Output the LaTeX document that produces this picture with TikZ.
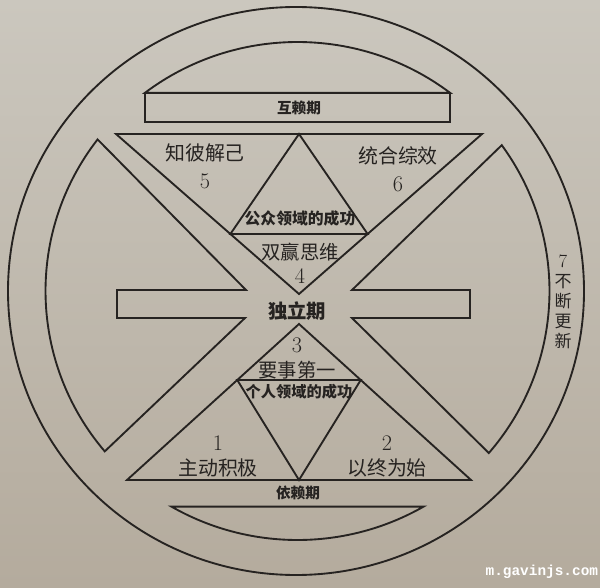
\documentclass[tikz,border=0pt]{standalone}
\usepackage{fontspec}
\newfontfamily\cjk{Noto Sans CJK SC}
\newfontfamily\wmfont{Liberation Mono}
\usetikzlibrary{calc}
\definecolor{papertop}{RGB}{203,199,190}
\definecolor{paperbot}{RGB}{180,171,157}
\definecolor{ink}{RGB}{38,35,33}
\begin{document}
\begin{tikzpicture}[x=0.03cm, y=0.03cm, line width=1.6pt, draw=ink, line join=miter,
  lbl/.style={text=ink, inner sep=0pt, font=\cjk\fontsize{17}{19}\selectfont},
  lblb/.style={text=ink, inner sep=0pt, font=\cjk\bfseries\fontsize{13}{15}\selectfont},
  num/.style={text=ink, inner sep=0pt, font=\fontsize{19}{21}\selectfont}]
\useasboundingbox (0,0) rectangle (600,587);
\shade[top color=papertop, bottom color=paperbot] (0,0) rectangle (600,587);
\coordinate (O) at (296,296);
\coordinate (C) at (297.5,296);
% outer ring
\draw (O) ellipse [x radius=288, y radius=284];
% top cap and interdependence bar
\path (C) ++(52.7:252 and 249) coordinate (capR);
\path (C) ++(127.3:252 and 249) coordinate (capL);
\draw (capR) arc[start angle=52.7, end angle=127.3, x radius=252, y radius=249] -- cycle;
\draw (capL) rectangle (capR |- 0,465);
\node[lblb, font=\cjk\bfseries\fontsize{12.5}{15}\selectfont] (hulai) at (299,479.5) {互赖期};
% bottom cap
\path (C) ++(240:252 and 249) coordinate (bcapL);
\path (C) ++(300:252 and 249) coordinate (bcapR);
\draw (bcapL) arc[start angle=240, end angle=300, x radius=252, y radius=249] -- cycle;
% upper big triangle
\coordinate (UL) at (116,453);
\coordinate (UR) at (482,453);
\coordinate (UA) at (299,293);
\coordinate (UM) at (299,453);
\draw (UL) -- (UR) -- (UA) -- cycle;
\draw ($(UL)!0.625!(UA)$) -- (UM) -- ($(UR)!0.625!(UA)$) -- cycle;
% lower big triangle
\coordinate (LL) at (127,107);
\coordinate (LR) at (471,107);
\coordinate (LA) at (299,263);
\coordinate (LM) at (299,107);
\draw (LL) -- (LR) -- (LA) -- cycle;
\draw ($(LL)!0.641!(LA)$) -- (LM) -- ($(LR)!0.641!(LA)$) -- cycle;
% left region
\path (C) ++(142.5:252 and 249) coordinate (LT);
\path (C) ++(220.1:252 and 249) coordinate (LB);
\draw (LT) arc[start angle=142.5, end angle=220.1, x radius=252, y radius=249] -- (245,269) -- (117,269) -- (117,297) -- (246,297) -- cycle;
% right region
\path (C) ++(35.85:252 and 249) coordinate (RT);
\path (C) ++(-40.6:252 and 249) coordinate (RB);
\draw (RB) arc[start angle=-40.6, end angle=35.85, x radius=252, y radius=249] -- (352,297) -- (470,297) -- (470,269) -- (352,269) -- cycle;
% labels
\node[lbl] (h5) at (205,434) {知彼解己};
\node[num] (n5) at (205,406) {5};
\node[lbl] (h6) at (398,431) {统合综效};
\node[num] (n6) at (398,403) {6};
\node[lblb, font=\cjk\bfseries\fontsize{13.5}{15}\selectfont] (pub) at (300,369) {公众领域的成功};
\node[lbl, font=\cjk\fontsize{16.5}{19}\selectfont] (h4) at (300,335) {双赢思维};
\node[num] (n4) at (300,311) {4};
\node[lblb, font=\cjk\bfseries\fontsize{16.5}{19}\selectfont] (duli) at (297,276) {独立期};
\node[num] (n3) at (297,242) {3};
\node[lbl, font=\cjk\fontsize{16.5}{19}\selectfont] (h3) at (297,217) {要事第一};
\node[lblb] (pri) at (299,195) {个人领域的成功};
\node[num] (n1) at (218,144) {1};
\node[lbl] (h1) at (218,119) {主动积极};
\node[num] (n2) at (387,144) {2};
\node[lbl] (h2) at (387,119) {以终为始};
\node[lblb, font=\cjk\bfseries\fontsize{12.5}{15}\selectfont] (yilai) at (298,94) {依赖期};
\node[lbl, font=\cjk\fontsize{14.5}{17}\selectfont, align=center] (h7) at (563,285)
  {{\fontsize{16}{17}\selectfont\rmfamily 7}\\不\\断\\更\\新};
\node[text=white, inner sep=0pt, anchor=east, font=\wmfont\bfseries\fontsize{12.3}{14}\selectfont] (wm) at (599,15) {m.gavinjs.com};
\end{tikzpicture}
\end{document}
